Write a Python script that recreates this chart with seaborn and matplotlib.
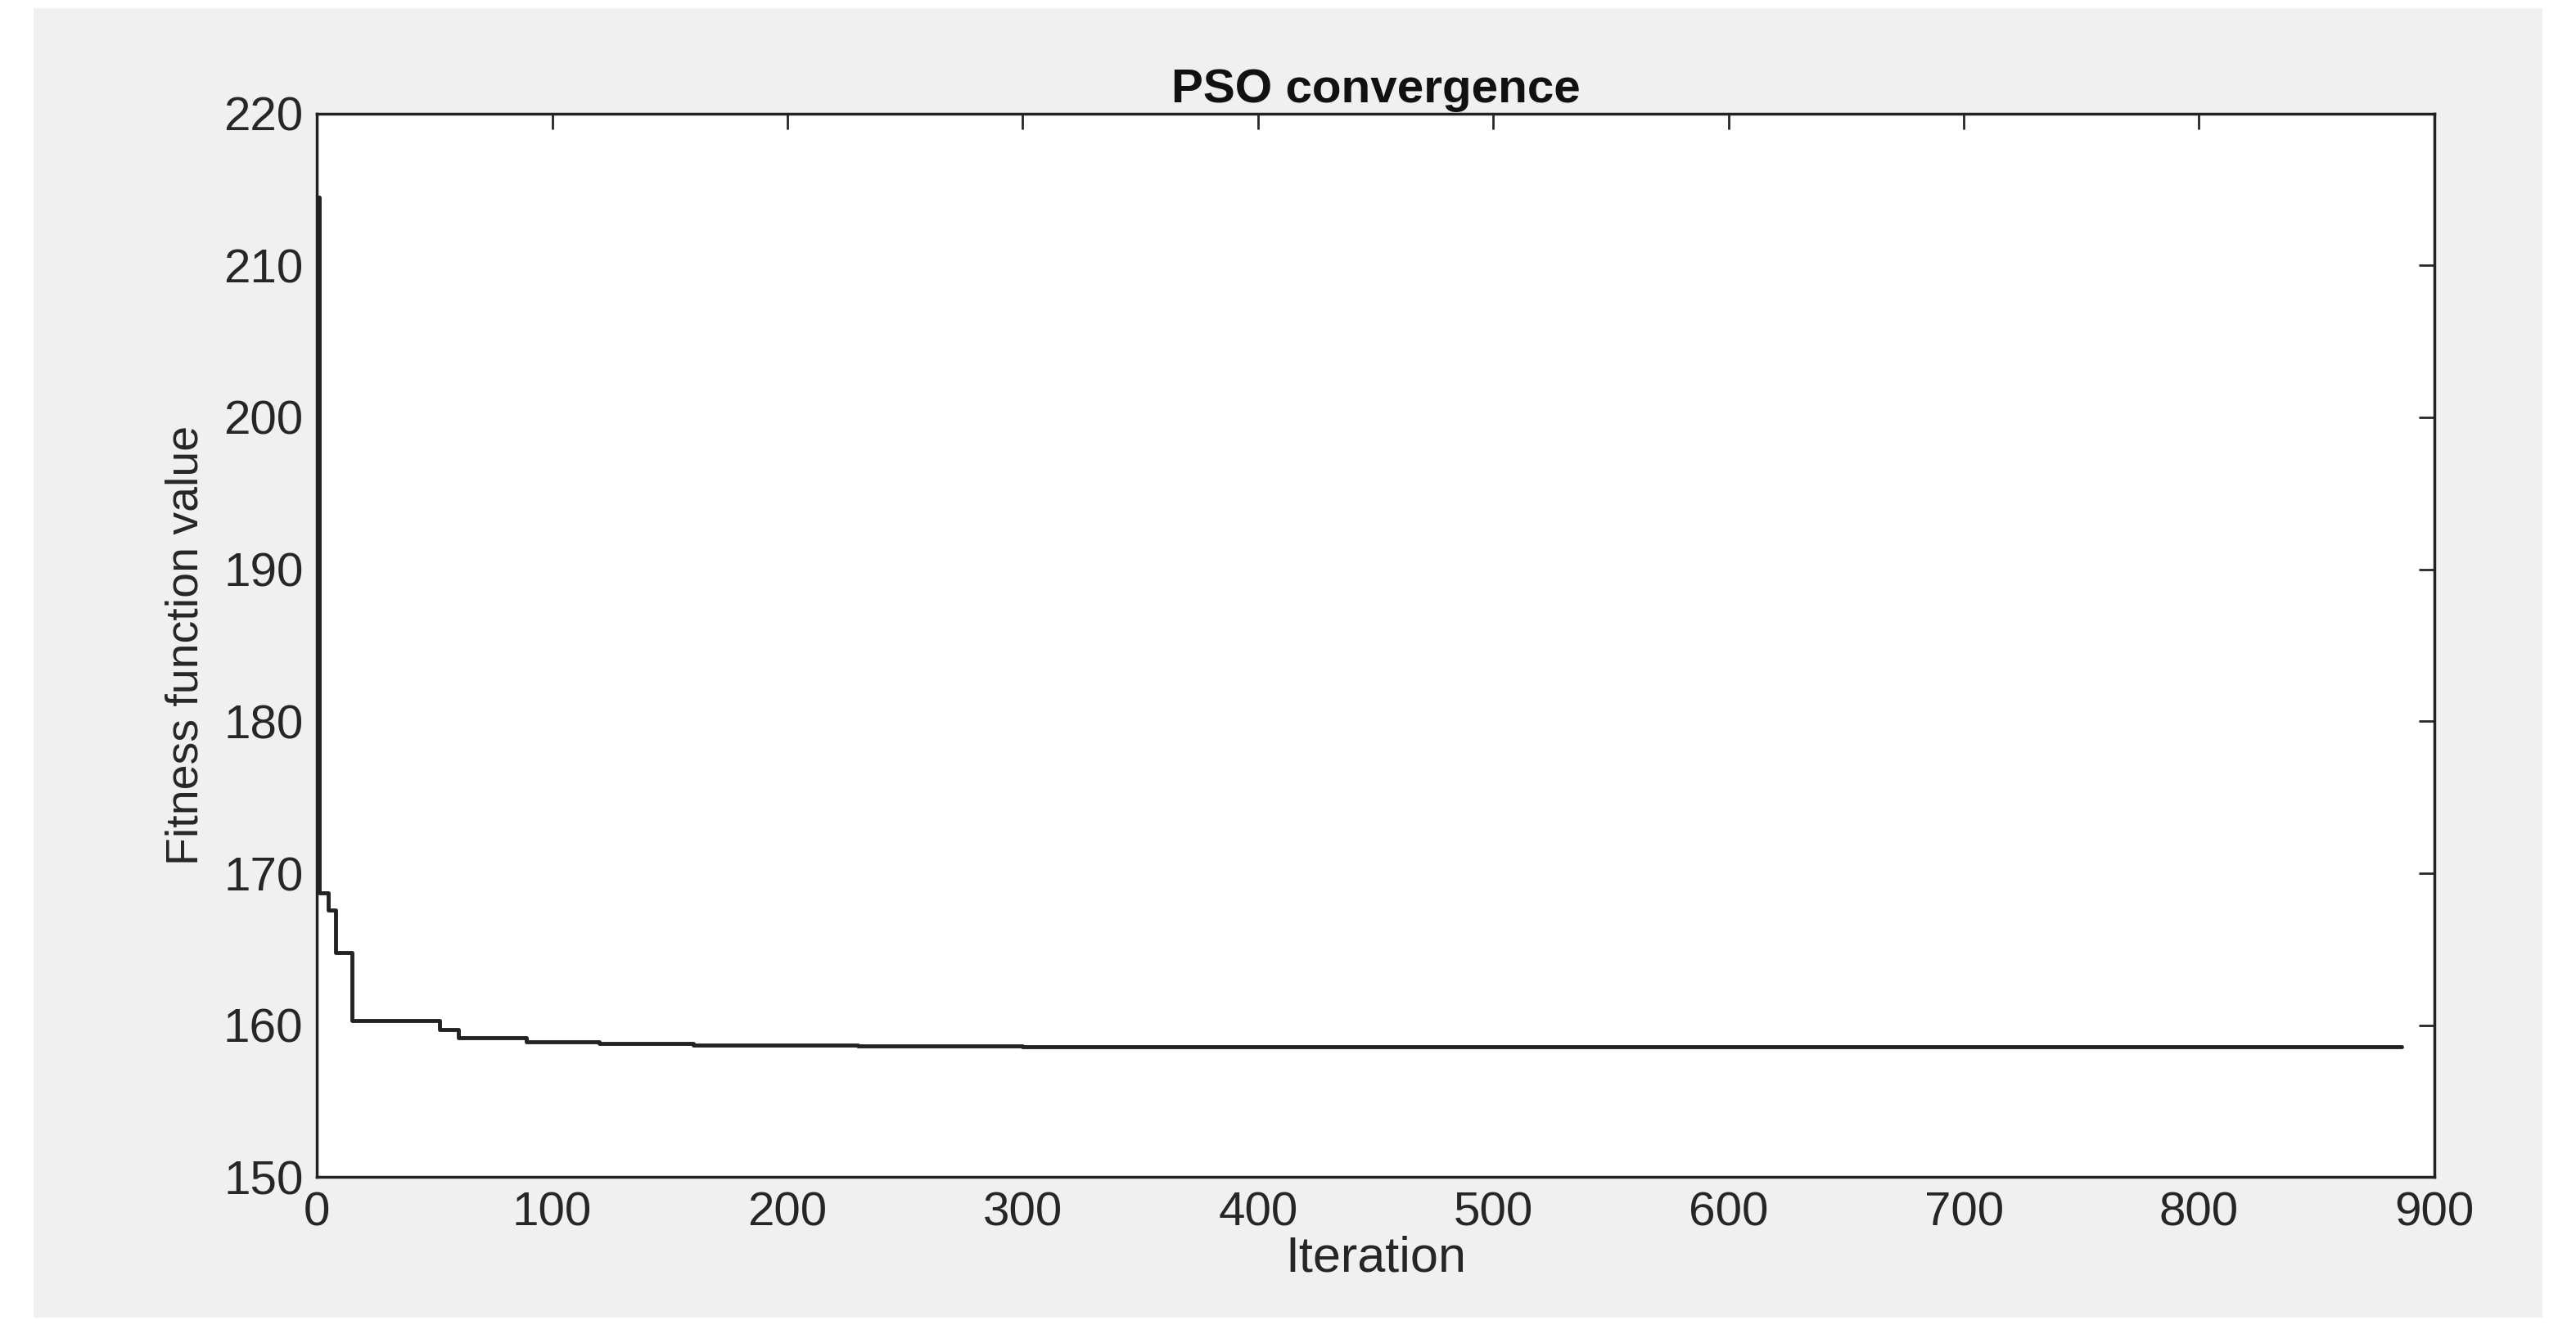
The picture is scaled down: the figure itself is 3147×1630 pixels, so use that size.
import matplotlib
matplotlib.use("Agg")
import matplotlib.pyplot as plt
import matplotlib.patches as mpatches
import seaborn as sns
import pandas as pd

# step-wise best fitness (iteration where value starts, value)
step_iters = [0, 1, 5, 8, 15, 52, 60, 89, 120, 160, 230, 300, 886]
step_vals = [214.5, 168.7, 167.6, 164.8, 160.3, 159.7, 159.2, 158.9, 158.8, 158.7, 158.65, 158.6, 158.6]

df = pd.DataFrame({"Iteration": step_iters, "Fitness": step_vals})

sns.set_style("white")
plt.rcParams['font.family'] = ['Liberation Sans', 'DejaVu Sans']
fig = plt.figure(figsize=(31.47, 16.30), dpi=100, facecolor="white")
fig.patches.append(mpatches.Rectangle((0.013, 0.012), 0.974, 0.982, transform=fig.transFigure,
                                      facecolor="#f0f0f0", edgecolor="none", zorder=-10))
ax = fig.add_axes([0.123, 0.1175, 0.822, 0.7975])
ax.set_facecolor("white")
ax.step(df["Iteration"], df["Fitness"], where="post", color="#222222", lw=3.5)
ax.set_xlim(0, 900)
ax.set_ylim(150, 220)
ax.set_xticks(range(0, 901, 100))
ax.set_yticks(range(150, 221, 10))
ax.tick_params(direction="in", length=14, width=2, labelsize=42, top=True, right=True,
               colors="#262626", pad=12)
for s in ax.spines.values():
    s.set_linewidth(2.5)
    s.set_color("#222222")
ax.set_xlabel("Iteration", fontsize=44, color="#262626", labelpad=0)
ax.set_ylabel("Fitness function value", fontsize=40, color="#262626", labelpad=14)
ax.set_title("PSO convergence", fontsize=42, fontweight="bold", color="#111111", pad=10)
fig.savefig("out.png", dpi=100, facecolor=fig.get_facecolor())
